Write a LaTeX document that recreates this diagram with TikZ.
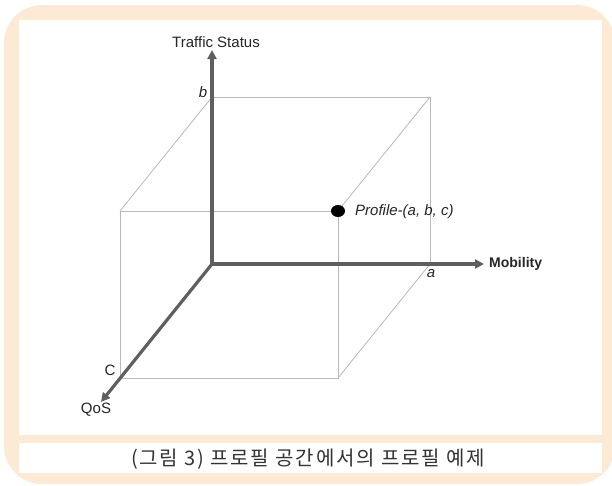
\documentclass[tikz,border=0pt]{standalone}
\usepackage{fontspec}
\setmainfont{Liberation Sans}
\newfontfamily\krfont{Noto Sans CJK KR}
\usetikzlibrary{arrows.meta}
\definecolor{peach}{RGB}{253,234,212}
\definecolor{axisgray}{RGB}{95,95,95}
\definecolor{edgegray}{RGB}{185,185,185}
\tikzset{
  axisline/.style = {line width=3.2pt, axisgray, -{Triangle[length=9pt, width=9pt]}},
  edge/.style     = {line width=0.8pt, edgegray},
  lbl/.style      = {font=\fontsize{15}{17}\selectfont, inner sep=0pt, text=black!85},
}

\begin{document}
\begin{tikzpicture}[x=1pt, y=-1pt]
  \useasboundingbox (0,0) rectangle (612,485);
  % frame
  \fill[peach, rounded corners=38pt] (4,5) rectangle (615,484);
  \fill[white] (19,20) rectangle (602,435);
  \fill[white] (19,443) rectangle (602,473);
  % cube corners
  \coordinate (O)  at (212,264);
  \coordinate (A)  at (430,264);
  \coordinate (B)  at (212,97);
  \coordinate (AB) at (430,97);
  \coordinate (C)  at (120,378);
  \coordinate (AC) at (338,378);
  \coordinate (BC) at (120,211);
  \coordinate (P)  at (338,211);
  \coordinate (ytip) at (212,50);
  \coordinate (xtip) at (484,264);
  \coordinate (ztip) at (101,402);
  % cube edges
  \draw[edge] (B) -- (AB) -- (A);
  \draw[edge] (B) -- (BC);
  \draw[edge] (AB) -- (P);
  \draw[edge] (A) -- (AC);
  \draw[edge] (BC) -- (P) -- (AC) -- (C) -- (BC);
  % axes
  \draw[axisline] (O) -- (ytip);
  \draw[axisline] (O) -- (xtip);
  \draw[axisline] (O) -- (ztip);
  % profile point
  \fill[black] (P) ellipse (7pt and 6pt);
  % labels
  \node[lbl] (ylab) at (216,42) {Traffic Status};
  \node[lbl, font=\fontsize{14}{16}\selectfont\bfseries, anchor=west] (xlab) at (489,264) {Mobility};
  \node[lbl] (zlab) at (96,410) {QoS};
  \node[lbl] (blab) at (203,92) {\itshape b};
  \node[lbl] (alab) at (431,274) {\itshape a};
  \node[lbl] (clab) at (110,370) {C};
  \node[lbl, anchor=west] (plab) at (355,212) {\itshape Profile-(a, b, c)};
  \node[font=\fontsize{20}{22}\selectfont\krfont\addfontfeature{LetterSpace=9}, text=black!80, inner sep=0pt] (cap) at (308,459)
    {(그림 3) 프로필 공간에서의 프로필 예제};
\end{tikzpicture}
\end{document}
